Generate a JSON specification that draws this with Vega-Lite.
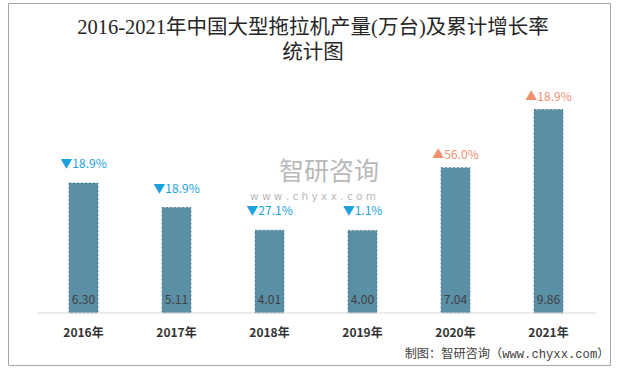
{
  "$schema": "https://vega.github.io/schema/vega-lite/v6.json",
  "autosize": {"type": "none"},
  "padding": {"left": 8, "top": 3, "right": 9, "bottom": 5},
  "width": 602,
  "height": 362,
  "background": "white",
  "title": {
    "text": ["2016-2021年中国大型拖拉机产量(万台)及累计增长率", "统计图"],
    "font": "Liberation Serif, Noto Sans CJK SC",
    "fontSize": 20.5,
    "fontWeight": "normal",
    "color": "#262626",
    "lineHeight": 25,
    "anchor": "middle",
    "frame": "group",
    "baseline": "top",
    "offset": 0,
    "dy": 60,
    "dx": 4
  },
  "data": {
    "values": [
      {"year": "2016年", "value": 6.30, "label": "▼18.9%", "dir": "down"},
      {"year": "2017年", "value": 5.11, "label": "▼18.9%", "dir": "down"},
      {"year": "2018年", "value": 4.01, "label": "▼27.1%", "dir": "down"},
      {"year": "2019年", "value": 4.00, "label": "▼1.1%", "dir": "down"},
      {"year": "2020年", "value": 7.04, "label": "▲56.0%", "dir": "up"},
      {"year": "2021年", "value": 9.86, "label": "▲18.9%", "dir": "up"}
    ]
  },
  "encoding": {
    "x": {
      "field": "year",
      "type": "nominal",
      "sort": null,
      "scale": {"paddingInner": 0.68817, "paddingOuter": 0.58067, "align": 0.5648},
      "axis": {
        "title": null,
        "orient": "bottom",
        "offset": -52,
        "domain": false,
        "ticks": false,
        "labelPadding": 14,
        "labelAngle": 0,
        "labelFont": "Noto Sans CJK SC",
        "labelFontSize": 12,
        "labelFontWeight": "bold",
        "labelColor": "#333333"
      }
    }
  },
  "layer": [
    {
      "mark": {"type": "bar", "color": "#5B8FA6", "stroke": "#4A7D95", "strokeDash": [2, 2], "strokeWidth": 0.8},
      "encoding": {
        "y": {"field": "value", "type": "quantitative", "scale": {"domain": [-2.519, 15.02], "nice": false, "zero": false}, "axis": null},
        "y2": {"datum": 0}
      }
    },
    {
      "mark": {"type": "rule", "color": "#D9D9D9", "strokeWidth": 1},
      "data": {"values": [{"a": 1}]},
      "encoding": {
        "x": {"datum": "2016年", "bandPosition": -1.103},
        "x2": {"datum": "2021年", "bandPosition": 2.138},
        "y": {"datum": 0}
      }
    },
    {
      "mark": {"type": "text", "font": "Noto Sans CJK SC", "fontSize": 12, "color": "#404040", "baseline": "middle", "dy": -13},
      "encoding": {
        "y": {"datum": 0},
        "text": {"field": "value", "type": "quantitative", "format": ".2f"}
      }
    },
    {
      "transform": [{"filter": "datum.dir === 'down'"}],
      "mark": {"type": "text", "font": "Noto Sans CJK SC", "fontSize": 12, "color": "#1AA1DE", "baseline": "middle", "dy": -19},
      "encoding": {
        "y": {"field": "value", "type": "quantitative"},
        "text": {"field": "label"}
      }
    },
    {
      "transform": [{"filter": "datum.dir === 'up'"}],
      "mark": {"type": "text", "font": "Noto Sans CJK SC", "fontSize": 12, "color": "#F2906F", "baseline": "middle", "dy": -13},
      "encoding": {
        "y": {"field": "value", "type": "quantitative"},
        "text": {"field": "label"}
      }
    },
    {
      "data": {"values": [{"t": "智研咨询"}]},
      "mark": {"type": "text", "font": "Noto Sans CJK SC", "fontSize": 25, "color": "#B8B8B8", "baseline": "middle", "align": "center"},
      "encoding": {
        "x": {"datum": "2018年", "bandPosition": 2.55},
        "y": {"datum": 6.85},
        "text": {"field": "t"}
      }
    },
    {
      "data": {"values": [{"t": "w w w . c h y x x . c o m"}]},
      "mark": {"type": "text", "font": "DejaVu Sans", "fontSize": 10.5, "color": "#B8B8B8", "baseline": "middle", "align": "center"},
      "encoding": {
        "x": {"datum": "2018年", "bandPosition": 2.0},
        "y": {"datum": 5.62},
        "text": {"field": "t"}
      }
    },
    {
      "data": {"values": [{"t": "制图：智研咨询（www.chyxx.com）"}]},
      "mark": {"type": "text", "font": "Liberation Mono, Noto Sans CJK SC", "fontSize": 12.2, "color": "#404040", "baseline": "middle", "align": "right"},
      "encoding": {
        "x": {"datum": "2021年", "bandPosition": 2.6},
        "y": {"datum": -1.99},
        "text": {"field": "t"}
      }
    }
  ],
  "config": {
    "view": {"stroke": "#A6A6A6", "strokeWidth": 1}
  }
}
